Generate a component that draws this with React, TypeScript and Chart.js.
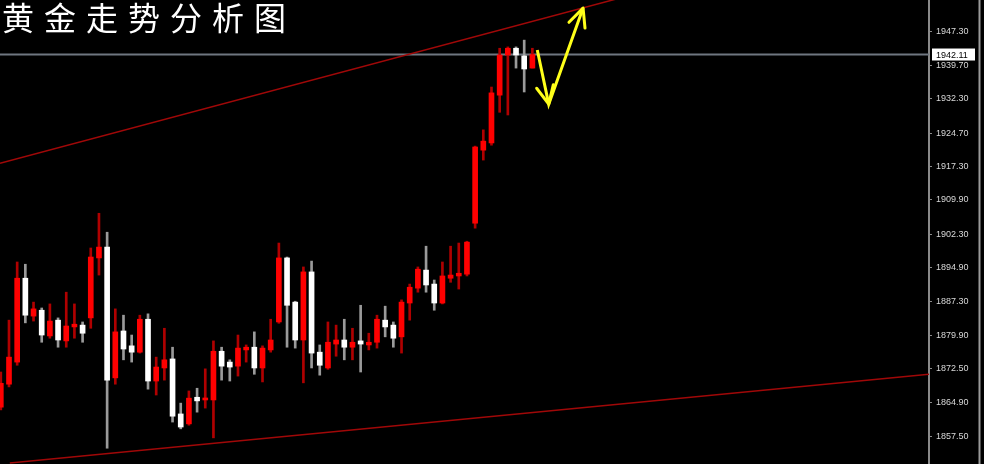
import React, { useEffect, useRef } from 'react';
import { Chart, registerables } from 'chart.js';

Chart.register(...registerables);

const TITLE = '黄金走势分析图';

const opens = [
  1863.9, 1869.0, 1873.9, 1892.5, 1884.1, 1885.4, 1879.7, 1883.2, 1878.6, 1881.7,
  1882.1, 1883.7, 1897.0, 1899.4, 1870.4, 1880.8, 1877.5, 1876.1, 1883.4, 1869.7,
  1872.6, 1874.6, 1862.4, 1860.2, 1866.1, 1865.5, 1865.5, 1876.3, 1873.9, 1873.0,
  1876.6, 1877.2, 1872.6, 1876.6, 1882.8, 1897.0, 1887.2, 1878.8, 1893.9, 1876.1,
  1872.6, 1877.9, 1878.8, 1877.2, 1878.6, 1877.7, 1878.3, 1883.2, 1882.1, 1879.5,
  1887.0, 1890.3, 1894.3, 1891.2, 1887.0, 1892.5, 1893.0, 1893.4, 1904.7, 1920.9,
  1922.5, 1933.1, 1942.0, 1943.5, 1941.8, 1939.1,
];
const highs = [
  1871.7, 1883.2, 1896.1, 1895.6, 1887.2, 1885.9, 1886.8, 1883.7, 1889.4, 1886.8,
  1882.8, 1899.2, 1906.9, 1902.7, 1885.7, 1884.3, 1879.9, 1884.3, 1884.6, 1875.0,
  1881.4, 1877.2, 1864.8, 1867.5, 1868.1, 1872.4, 1878.6, 1877.2, 1874.4, 1879.9,
  1877.7, 1880.6, 1877.5, 1883.4, 1900.3, 1897.2, 1887.4, 1895.0, 1896.3, 1877.7,
  1882.8, 1882.1, 1883.4, 1881.4, 1886.5, 1880.3, 1884.3, 1886.3, 1882.8, 1887.7,
  1891.2, 1895.0, 1899.6, 1892.1, 1896.1, 1899.6, 1900.3, 1900.7, 1921.8, 1925.4,
  1934.9, 1943.5, 1943.8, 1943.8, 1945.3, 1943.5,
];
const lows = [
  1863.3, 1868.4, 1873.2, 1882.6, 1883.0, 1878.3, 1879.2, 1877.2, 1877.2, 1879.2,
  1878.3, 1881.4, 1893.2, 1854.8, 1869.0, 1874.4, 1873.9, 1875.9, 1867.9, 1866.6,
  1869.9, 1860.6, 1859.1, 1859.9, 1862.8, 1863.7, 1857.1, 1869.9, 1869.7, 1870.8,
  1873.9, 1871.2, 1869.5, 1876.1, 1882.5, 1877.2, 1877.0, 1869.3, 1872.6, 1871.0,
  1872.3, 1875.2, 1874.4, 1874.4, 1871.7, 1876.6, 1877.0, 1879.5, 1877.2, 1875.9,
  1883.2, 1889.4, 1889.4, 1885.4, 1886.8, 1891.6, 1890.1, 1893.0, 1903.6, 1918.7,
  1922.0, 1929.3, 1928.7, 1939.1, 1933.8, 1939.1,
];
const closes = [
  1869.2, 1875.0, 1892.5, 1884.3, 1885.7, 1879.9, 1883.0, 1878.8, 1881.9, 1882.3,
  1880.3, 1897.2, 1899.4, 1869.9, 1880.6, 1876.8, 1876.1, 1883.4, 1869.7, 1872.8,
  1874.4, 1861.9, 1859.5, 1865.9, 1865.3, 1865.9, 1876.3, 1873.0, 1872.8, 1877.0,
  1877.2, 1872.6, 1877.0, 1878.8, 1897.0, 1886.5, 1878.8, 1893.9, 1875.9, 1873.2,
  1878.3, 1878.8, 1877.2, 1878.3, 1877.9, 1878.3, 1883.4, 1881.7, 1879.2, 1887.2,
  1890.5, 1894.5, 1891.0, 1887.0, 1893.0, 1893.2, 1893.6, 1900.5, 1921.6, 1922.9,
  1933.6, 1942.0, 1943.5, 1942.0, 1938.9, 1942.1,
];

const yTickValues = [
  1947.3, 1939.7, 1932.3, 1924.7, 1917.3, 1909.9, 1902.3,
  1894.9, 1887.3, 1879.9, 1872.5, 1864.9, 1857.5,
];
const lastPrice = 1942.11;

const upperTrend = [
  { x: -0.1, y: 1918.0 },
  { x: 113.5, y: 1972.9 },
];
const lowerTrend = [
  { x: 1.1, y: 1851.5 },
  { x: 113.5, y: 1871.2 },
];
const forecastPath = [
  { x: 65.6, y: 1943.1 },
  { x: 67.0, y: 1931.1 },
  { x: 71.2, y: 1952.4 },
];

const X_MIN = -0.1;
const X_MAX = 113.5;
const Y_MIN = 1851.3;
const Y_MAX = 1954.2;

const UP_BODY = '#ff0000';
const UP_WICK = '#b00000';
const DOWN_BODY = '#ffffff';
const DOWN_WICK = '#9a9a9a';

function drawHead(ctx: CanvasRenderingContext2D, from: any, to: any, len: number, ang: number) {
  const a = Math.atan2(to.y - from.y, to.x - from.x);
  ctx.beginPath();
  ctx.moveTo(to.x - len * Math.cos(a - ang), to.y - len * Math.sin(a - ang));
  ctx.lineTo(to.x, to.y);
  ctx.lineTo(to.x - len * Math.cos(a + ang), to.y - len * Math.sin(a + ang));
  ctx.stroke();
}

export default function App() {
  const ref = useRef<HTMLCanvasElement>(null);

  useEffect(() => {
    document.body.style.margin = '0';
    document.body.style.background = '#000';
    const canvas = ref.current;
    if (!canvas) return;

    const isUp = opens.map((o, i) => closes[i] >= o);

    const bgPlugin = {
      id: 'bg',
      beforeDraw(chart: any) {
        const ctx = chart.ctx;
        ctx.save();
        ctx.fillStyle = '#000';
        ctx.fillRect(0, 0, chart.width, chart.height);
        ctx.restore();
      },
    };

    const overlayPlugin = {
      id: 'overlay',
      afterDraw(chart: any) {
        const ctx: CanvasRenderingContext2D = chart.ctx;
        const xs = chart.scales.x;
        const ys = chart.scales.y;
        ctx.save();
        // arrowheads
        const pts = forecastPath.map((p) => ({ x: xs.getPixelForValue(p.x), y: ys.getPixelForValue(p.y) }));
        ctx.strokeStyle = '#ffff1a';
        ctx.lineWidth = 3;
        ctx.lineCap = 'round';
        ctx.lineJoin = 'round';
        drawHead(ctx, pts[0], pts[1], 20, 0.44);
        drawHead(ctx, pts[1], pts[2], 20, 0.44);

        // price label
        const py = ys.getPixelForValue(lastPrice);
        ctx.fillStyle = '#ffffff';
        ctx.fillRect(932, py - 6, 43, 12);
        ctx.fillStyle = '#000000';
        ctx.font = '9px "Liberation Sans"';
        ctx.textBaseline = 'middle';
        ctx.textAlign = 'left';
        ctx.fillText(lastPrice.toFixed(2), 936, py + 0.5);

        // right frame line
        ctx.strokeStyle = '#9a9a9a';
        ctx.lineWidth = 2;
        ctx.beginPath();
        ctx.moveTo(979.5, 0);
        ctx.lineTo(979.5, chart.height);
        ctx.stroke();

        // title
        ctx.fillStyle = '#ffffff';
        ctx.font = '32px "Noto Sans CJK SC"';
        (ctx as any).letterSpacing = '10px';
        ctx.textBaseline = 'middle';
        ctx.fillText(TITLE, 2, 18);
        ctx.restore();
      },
    };

    const chart = new Chart(canvas, {
      type: 'bar',
      data: {
        datasets: [
          {
            type: 'line',
            data: forecastPath,
            borderColor: '#ffff1a',
            borderWidth: 3,
            pointRadius: 0,
            tension: 0,
            fill: false,
            order: -2,
          } as any,
          {
            type: 'bar',
            data: opens.map((o, i) => ({ x: i, y: [o, closes[i]] })),
            backgroundColor: isUp.map((u) => (u ? UP_BODY : DOWN_BODY)),
            barThickness: 5,
            minBarLength: 2,
            grouped: false,
            borderWidth: 0,
            order: 0,
          } as any,
          {
            type: 'bar',
            data: lows.map((l, i) => ({ x: i, y: [l, highs[i]] })),
            backgroundColor: isUp.map((u) => (u ? UP_WICK : DOWN_WICK)),
            barThickness: 2,
            grouped: false,
            borderWidth: 0,
            order: 1,
          } as any,
          {
            type: 'line',
            data: upperTrend,
            borderColor: '#a00808',
            borderWidth: 1.5,
            pointRadius: 0,
            tension: 0,
            fill: false,
            order: 2,
          } as any,
          {
            type: 'line',
            data: lowerTrend,
            borderColor: '#a00808',
            borderWidth: 1.5,
            pointRadius: 0,
            tension: 0,
            fill: false,
            order: 2,
          } as any,
          {
            type: 'line',
            data: [
              { x: X_MIN, y: lastPrice },
              { x: X_MAX, y: lastPrice },
            ],
            borderColor: '#6f7680',
            borderWidth: 2,
            pointRadius: 0,
            tension: 0,
            fill: false,
            order: 3,
          } as any,
        ],
      },
      options: {
        responsive: false,
        animation: false,
        layout: { padding: 0 },
        plugins: {
          legend: { display: false },
          tooltip: { enabled: false },
          title: { display: false },
        },
        scales: {
          x: {
            type: 'linear',
            min: X_MIN,
            max: X_MAX,
            display: false,
            offset: false,
          },
          y: {
            type: 'linear',
            position: 'right',
            min: Y_MIN,
            max: Y_MAX,
            afterFit(scale: any) {
              scale.width = 55;
              scale.paddingTop = 0;
              scale.paddingBottom = 0;
            },
            afterBuildTicks(scale: any) {
              scale.ticks = yTickValues.map((v) => ({ value: v }));
            },
            grid: {
              display: true,
              drawOnChartArea: false,
              drawTicks: true,
              tickLength: 3,
              color: '#8a8a8a',
            },
            border: { display: true, color: '#8a8a8a', width: 2 },
            ticks: {
              autoSkip: false,
              color: '#d8d8d8',
              padding: 4,
              font: { family: '"Liberation Sans"', size: 9 },
              callback: (v: any) => Number(v).toFixed(2),
            },
          },
        },
      } as any,
      plugins: [bgPlugin, overlayPlugin],
    });

    return () => chart.destroy();
  }, []);

  return (
    <div style={{ position: 'fixed', left: 0, top: 0, width: 984, height: 464, background: '#000' }}>
      <canvas ref={ref} width={984} height={464} style={{ display: 'block' }} />
    </div>
  );
}
